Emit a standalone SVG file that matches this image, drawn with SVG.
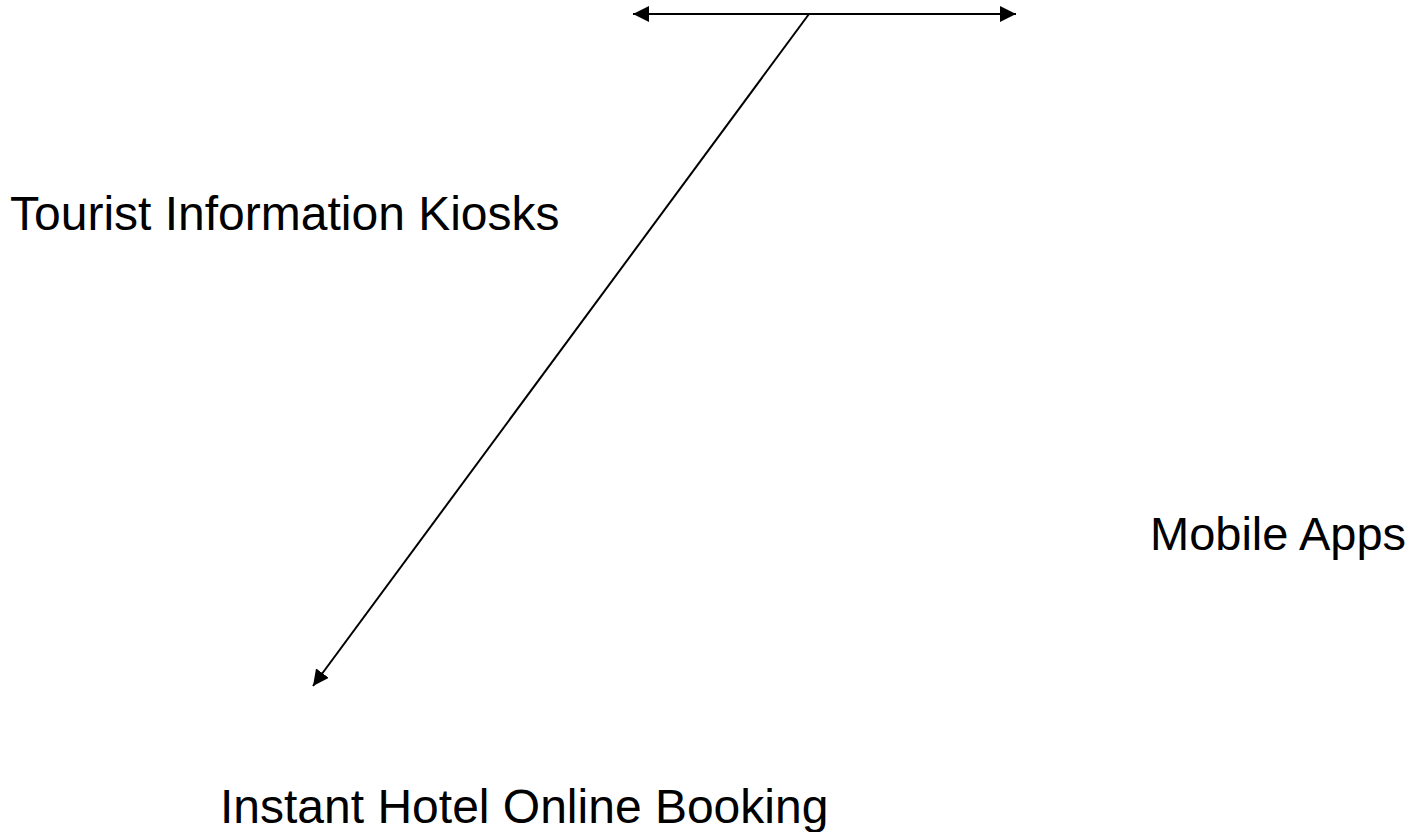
<svg xmlns="http://www.w3.org/2000/svg" width="1417" height="832" viewBox="0 0 1417 832">
<style>
text{font-family:"Liberation Sans",Arial,sans-serif;font-size:48px;fill:#000}
.c{stroke:#000;stroke-width:2;fill:none}
</style>
<defs>
<marker id="ah" viewBox="0 0 10 10" refX="10" refY="5" markerWidth="16" markerHeight="16" markerUnits="userSpaceOnUse" orient="auto-start-reverse"><path d="M0,0 L10,5 L0,10 z" fill="#000"/></marker>
</defs>
<rect width="1417" height="832" fill="#fff"/>
<g id="connectors">
<line class="c" x1="633" y1="14" x2="1016" y2="14" marker-start="url(#ah)" marker-end="url(#ah)"/>
<line class="c" x1="809" y1="14" x2="313" y2="686" marker-end="url(#ah)"/>
</g>
<g id="kiosks"><text x="10" y="230">Tourist Information Kiosks</text></g>
<g id="mobile"><text x="1150" y="550" style="font-size:47px">Mobile Apps</text></g>
<g id="booking"><text x="220" y="823">Instant Hotel Online Booking</text></g>
</svg>
